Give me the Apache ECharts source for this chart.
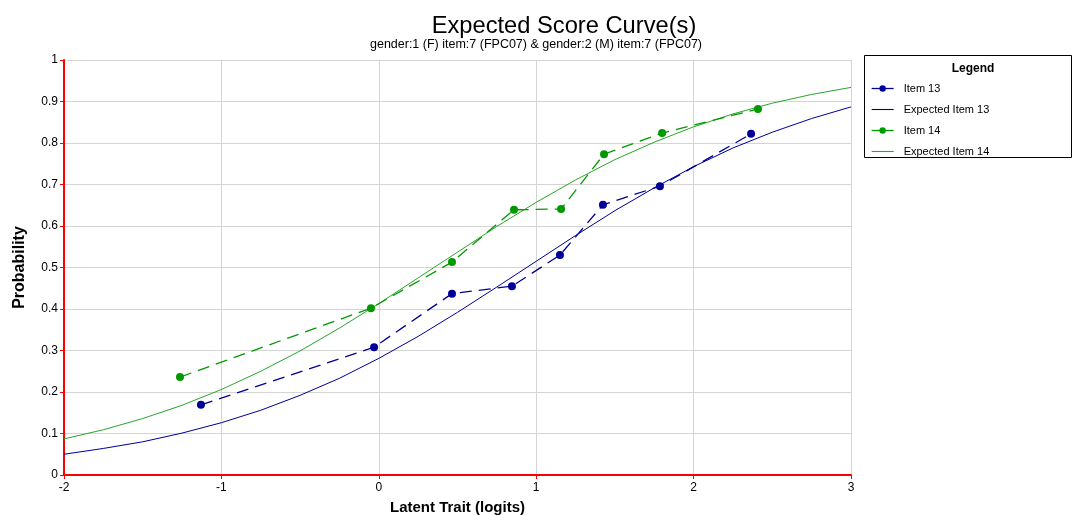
<!DOCTYPE html>
<html>
<head>
<meta charset="utf-8">
<script src="https://cdn.jsdelivr.net/npm/echarts@6/dist/echarts.min.js"></script>
<style>html,body{margin:0;padding:0;background:#fff}#c{width:1073px;height:515px}</style>
</head>
<body>
<div id="c"></div>
<script>
var xTicks = [-2, -1, 0, 1, 2, 3];
var item13 = [[-1.13, 0.169], [-0.03, 0.308], [0.465, 0.437], [0.846, 0.455], [1.151, 0.530], [1.424, 0.651], [1.786, 0.696], [2.365, 0.822]];
var item14 = [[-1.263, 0.236], [-0.05, 0.402], [0.465, 0.513], [0.859, 0.639], [1.158, 0.641], [1.431, 0.773], [1.80, 0.824], [2.409, 0.882]];
var expX = [-2, -1.75, -1.5, -1.25, -1, -0.75, -0.5, -0.25, 0, 0.25, 0.5, 0.75, 1, 1.25, 1.5, 1.75, 2, 2.25, 2.5, 2.75, 3];
var exp13 = [0.050, 0.064, 0.080, 0.101, 0.126, 0.156, 0.192, 0.233, 0.281, 0.334, 0.392, 0.453, 0.515, 0.577, 0.637, 0.692, 0.743, 0.788, 0.826, 0.859, 0.887];
var exp14 = [0.087, 0.109, 0.136, 0.168, 0.206, 0.250, 0.299, 0.354, 0.413, 0.475, 0.537, 0.599, 0.657, 0.711, 0.760, 0.802, 0.839, 0.870, 0.896, 0.917, 0.934];

function pairs(xs, ys) { return xs.map(function (x, i) { return [x, ys[i]]; }); }

var BLUE = '#000099', GREEN = '#009900', LGREEN = '#2aa52a';
var FONT = 'Liberation Sans, Arial, sans-serif';
var LINE_ICON = 'path://M0,0 L40,0 L40,2 L0,2 Z';
var chart = echarts.init(document.getElementById('c'), null, {renderer: 'canvas'});
chart.setOption({
  animation: false,
  backgroundColor: '#fff',
  textStyle: {fontFamily: FONT},
  title: [
    {text: 'Expected Score Curve(s)', left: 559, top: 9, textAlign: 'center',
     textStyle: {fontSize: 23.7, fontWeight: 'normal', color: '#000', fontFamily: FONT}},
    {text: 'gender:1 (F) item:7 (FPC07) & gender:2 (M) item:7 (FPC07)', left: 531, top: 33, textAlign: 'center',
     textStyle: {fontSize: 12.5, fontWeight: 'normal', color: '#000', fontFamily: FONT}},
    {text: 'Legend', left: 968, top: 58, textAlign: 'center',
     textStyle: {fontSize: 12, fontWeight: 'bold', color: '#000', fontFamily: FONT}}
  ],
  graphic: [{type: 'rect', shape: {x: 864.5, y: 55.5, width: 207, height: 102},
             style: {fill: 'rgba(0,0,0,0)', stroke: '#000', lineWidth: 1}, z: 0}],
  legend: {
    orient: 'vertical', left: 871, top: 83, padding: 0,
    itemWidth: 22, itemHeight: 8, itemGap: 10,
    lineStyle: {type: 'solid', width: 1.3},
    textStyle: {fontSize: 11, color: '#000', fontFamily: FONT, padding: [0, 0, 0, 5]},
    data: [
      {name: 'Item 13'},
      {name: 'Expected Item 13', icon: LINE_ICON, itemStyle: {color: BLUE}},
      {name: 'Item 14'},
      {name: 'Expected Item 14', icon: LINE_ICON, itemStyle: {color: LGREEN}}
    ]
  },
  grid: {left: 64, right: 222, top: 60, bottom: 40, containLabel: false, outerBoundsMode: 'none'},
  xAxis: {
    type: 'value', min: -2, max: 3, interval: 1,
    name: 'Latent Trait (logits)', nameLocation: 'middle', nameGap: 25,
    nameTextStyle: {fontSize: 15, fontWeight: 'bold', color: '#000', fontFamily: FONT},
    axisLine: {onZero: false, lineStyle: {color: '#ff0000', width: 2}},
    axisTick: {show: true, length: 4, lineStyle: {color: '#ff0000', width: 1}},
    axisLabel: {fontSize: 12, color: '#000', margin: 7, fontFamily: FONT,
                formatter: function (v) { return xTicks.indexOf(v) >= 0 ? String(v) : ''; }},
    splitLine: {show: true, lineStyle: {color: '#d4d4d4', width: 1}}
  },
  yAxis: {
    type: 'value', min: 0, max: 1, interval: 0.1,
    name: 'Probability', nameLocation: 'middle', nameGap: 36, nameRotate: 90,
    nameTextStyle: {fontSize: 16, fontWeight: 'bold', color: '#000', fontFamily: FONT},
    axisLine: {onZero: false, lineStyle: {color: '#ff0000', width: 2}},
    axisTick: {show: true, length: 4, lineStyle: {color: '#ff0000', width: 1}},
    axisLabel: {fontSize: 12, color: '#000', margin: 6, fontFamily: FONT,
                formatter: function (v) { return String(Math.round(v * 10) / 10); }},
    splitLine: {show: true, lineStyle: {color: '#d4d4d4', width: 1}}
  },
  series: [
    {name: 'Item 13', type: 'line', data: item13, symbol: 'circle', symbolSize: 8,
     itemStyle: {color: BLUE}, lineStyle: {color: BLUE, width: 1.3, type: [12, 7]}, z: 4},
    {name: 'Expected Item 13', type: 'line', data: pairs(expX, exp13), symbol: 'none', smooth: false,
     itemStyle: {color: BLUE}, lineStyle: {color: BLUE, width: 1}, z: 3},
    {name: 'Item 14', type: 'line', data: item14, symbol: 'circle', symbolSize: 8,
     itemStyle: {color: GREEN}, lineStyle: {color: GREEN, width: 1.3, type: [12, 7]}, z: 4},
    {name: 'Expected Item 14', type: 'line', data: pairs(expX, exp14), symbol: 'none', smooth: false,
     itemStyle: {color: LGREEN}, lineStyle: {color: LGREEN, width: 1}, z: 3}
  ]
});
</script>
</body>
</html>
